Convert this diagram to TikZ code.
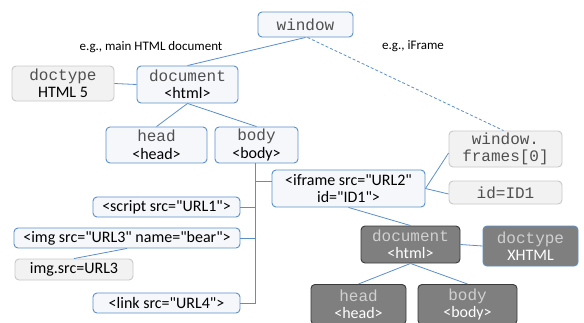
\documentclass[tikz,border=0pt]{standalone}
\usepackage{fontspec}
\setmainfont{Carlito}[Ligatures=TeXOff]
\newfontfamily\cour{Liberation Mono}
\usetikzlibrary{calc}
\definecolor{lnblue}{HTML}{5B8FC9}
\definecolor{bxfill}{HTML}{F5F7FA}
\definecolor{gyfill}{HTML}{F2F2F2}
\definecolor{gyline}{HTML}{C8C8C8}
\definecolor{dkfill}{HTML}{7F7F7F}
\definecolor{dkline}{HTML}{3A3A3A}
\definecolor{dktext}{HTML}{D0D0D0}
\definecolor{mtext}{HTML}{505050}
\tikzset{
  base/.style={rectangle, rounded corners=4pt, line width=0.9pt, inner sep=0pt, align=center, font=\fontsize{16}{17.5}\selectfont},
  bluebox/.style={base, draw=lnblue, fill=bxfill},
  graybox/.style={base, draw=gyline, fill=gyfill},
  darkbox/.style={base, draw=dkline, fill=dkfill, text=white},
  darkblue/.style={base, draw=lnblue, fill=dkfill, text=white},
  conn/.style={draw=lnblue, line width=0.8pt},
  lbl/.style={font=\fontsize{13}{15}\selectfont, inner sep=0pt}
}
\newcommand{\mt}[1]{{\cour\fontsize{16}{17.5}\selectfont\color{mtext}#1}}
\newcommand{\dmt}[1]{{\cour\fontsize{16}{17.5}\selectfont\color{dktext}#1}}
\begin{document}
\begin{tikzpicture}[x=1pt,y=-1pt]
\useasboundingbox (0,0) rectangle (584,322);
\node[bluebox, minimum width=95, minimum height=25] (window) at (305.5,24.5) {\mt{window}};
\node[lbl] (l1) at (151,47) {e.g., main HTML document};
\node[lbl] (l2) at (413,46) {e.g., iFrame};
\node[graybox, minimum width=102, minimum height=35] (doctype) at (63,83.5) {\mt{doctype}\\HTML 5};
\node[bluebox, minimum width=101, minimum height=37] (document) at (187.5,84.5) {\mt{document}\\<html>};
\node[bluebox, minimum width=101, minimum height=36] (head) at (156.5,145) {\mt{head}\\<head>};
\node[bluebox, minimum width=83, minimum height=36] (body) at (256.5,145) {\mt{body}\\<body>};
\node[bluebox, minimum width=153, minimum height=37] (iframe) at (348.5,188.5) {<iframe src="URL2"\\id="ID1">};
\node[graybox, minimum width=113, minimum height=36] (frames) at (505.5,149) {\mt{window.}\\\mt{frames[0]}};
\node[graybox, minimum width=113, minimum height=23] (id) at (505.5,192.5) {\mt{id=ID1}};
\node[bluebox, minimum width=147, minimum height=20] (script) at (166.5,207) {<script src="URL1">};
\node[bluebox, minimum width=226, minimum height=20] (img) at (127,238) {<img src="URL3" name="bear">};
\node[graybox, minimum width=118, minimum height=21] (imgsrc) at (74,269.5) {img.src=URL3};
\node[bluebox, minimum width=147, minimum height=20] (link) at (166.5,303) {<link src="URL4">};
\node[darkbox, minimum width=99, minimum height=37] (ddoc) at (410.5,244.5) {\dmt{document}\\<html>};
\node[darkblue, minimum width=95, minimum height=40] (dxhtml) at (530.5,246) {\dmt{doctype}\\XHTML};
\node[darkbox, minimum width=95, minimum height=40, anchor=north] (dhead) at (358.5,284) {\dmt{head}\\<head>};
\node[darkbox, minimum width=99, minimum height=40, anchor=north] (dbody) at (467.5,284) {\dmt{body}\\<body>};
% connectors
\draw[conn] (window.south) -- (document.north);
\draw[conn, dash pattern=on 3pt off 2pt] ([xshift=2pt]window.south) -- ([xshift=-2pt]frames.north);
\draw[conn] (doctype.east) -- (document.west);
\draw[conn] (document.south) -- (head.north);
\draw[conn] (document.south) -- (body.north);
\coordinate (tr) at ([xshift=-1.5pt]body.south);
\coordinate (ifw) at ($(iframe.west)+(0,-7.5)$);
\draw[conn] (tr) -- (tr |- link.east) -- (link.east);
\draw[conn] (script.east) -- (tr |- script.east);
\draw[conn] (img.east) -- (tr |- img.east);
\draw[conn] (ifw) -- (tr |- ifw);
\draw[conn] (iframe.east) -- ($(frames.west)+(0,4)$);
\draw[conn] (iframe.east) -- ($(id.west)+(0,1.5)$);
\draw[conn] (iframe.south) -- (ddoc.north);
\draw[conn] (ddoc.east) -- (dxhtml.west);
\draw[conn] (ddoc.south) -- (dhead.north);
\draw[conn] (ddoc.south) -- (dbody.north);
\draw[conn] (img.south) -- (imgsrc.north);
\end{tikzpicture}
\end{document}
